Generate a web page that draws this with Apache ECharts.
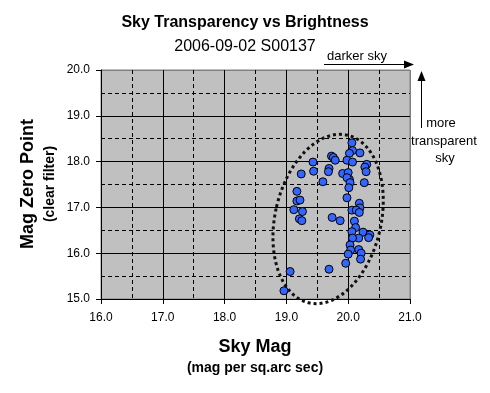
<!DOCTYPE html>
<html>
<head>
<meta charset="utf-8">
<script src="https://cdn.jsdelivr.net/npm/echarts@6/dist/echarts.min.js"></script>
<style>html,body{margin:0;padding:0;background:#fff;}#c{width:490px;height:393px;}</style>
</head>
<body>
<div id="c"></div>
<script>
// Sky Mag (x) and Mag Zero Point (y)
const skyMag = [20.06,20.07,20.02,20.19,19.73,19.76,19.79,19.98,20.07,19.43,20.30,20.27,20.29,19.44,19.69,19.68,19.24,19.91,20.00,20.02,19.98,19.59,20.03,20.01,20.26,19.17,19.17,19.22,19.98,20.18,20.19,20.06,20.13,20.18,19.12,19.26,19.21,19.25,19.74,19.87,20.10,20.12,20.06,20.24,20.35,20.33,20.17,20.07,20.03,20.04,20.17,20.00,20.21,20.20,19.96,19.06,19.69,18.96];
const magZeroPoint = [18.41,18.24,18.18,18.19,18.12,18.09,18.03,18.03,17.99,17.99,17.94,17.88,17.78,17.79,17.85,17.78,17.73,17.74,17.76,17.61,17.65,17.56,17.54,17.43,17.54,17.35,17.14,17.16,17.21,17.09,16.99,16.94,16.94,16.89,16.95,16.91,16.75,16.71,16.78,16.71,16.70,16.56,16.47,16.46,16.40,16.34,16.33,16.33,16.18,16.07,16.08,15.98,16.00,15.87,15.78,15.60,15.65,15.18];
const xTicks = [16, 17, 18, 19, 20, 21];
const yTicks = [15, 16, 17, 18, 19, 20];
const titleText = 'Sky Transparency vs Brightness';
const subtitleText = '2006-09-02 S00137';

const points = skyMag.map((x, i) => [x, magZeroPoint[i]]);
const FONT = '"Liberation Sans", Arial, sans-serif';

// annotation ellipse (centre in data units)
const ellipseCentre = [19.675, 16.747];

const chart = echarts.init(document.getElementById('c'), null, {renderer: 'canvas'});
const splitColors = n => Array.from({length: n}, (_, i) => i === n - 1 ? '#808080' : '#000');

chart.setOption({
  animation: false,
  backgroundColor: '#fff',
  title: [
    {text: titleText, left: 'center', top: 10, textStyle: {fontFamily: FONT, fontSize: 16, fontWeight: 'bold', color: '#000'}},
    {text: subtitleText, left: 'center', top: 34, textStyle: {fontFamily: FONT, fontSize: 16, fontWeight: 'normal', color: '#000'}}
  ],
  grid: {left: 101, right: 80, top: 70, bottom: 94, show: true, backgroundColor: '#c0c0c0', borderColor: '#808080', borderWidth: 1},
  xAxis: {
    type: 'value', min: xTicks[0], max: xTicks[xTicks.length - 1], interval: 1,
    axisLine: {lineStyle: {color: '#000', width: 1}},
    axisTick: {show: true, inside: false, length: 5, lineStyle: {color: '#000'}},
    axisLabel: {formatter: v => v.toFixed(1), fontFamily: FONT, fontSize: 12, color: '#000', margin: 13},
    splitLine: {show: true, lineStyle: {color: splitColors(xTicks.length), width: 1}},
    minorTick: {show: false, splitNumber: 2},
    minorSplitLine: {show: true, lineStyle: {color: '#000', width: 1, type: [4, 3]}}
  },
  yAxis: {
    type: 'value', min: yTicks[0], max: yTicks[yTicks.length - 1], interval: 1,
    axisLine: {show: true, lineStyle: {color: '#000', width: 1}},
    axisTick: {show: true, inside: false, length: 5, lineStyle: {color: '#000'}},
    axisLabel: {formatter: v => v.toFixed(1), fontFamily: FONT, fontSize: 12, color: '#000', margin: 11},
    splitLine: {show: true, lineStyle: {color: splitColors(yTicks.length), width: 1}},
    minorTick: {show: false, splitNumber: 2},
    minorSplitLine: {show: true, lineStyle: {color: '#000', width: 1, type: [4, 3]}}
  },
  series: [{
    type: 'scatter', data: points, symbol: 'circle', symbolSize: 8,
    itemStyle: {color: '#3366ff', borderColor: '#000', borderWidth: 1, opacity: 1},
    z: 5
  }]
});

const c = chart.convertToPixel({gridIndex: 0}, ellipseCentre);
const txt = (x, y, s, size, bold, extra) => Object.assign({
  type: 'text', x, y,
  style: {text: s, fontFamily: FONT, fontSize: size, fontWeight: bold ? 'bold' : 'normal', fill: '#000', align: 'center', verticalAlign: 'middle'}
}, extra || {});

chart.setOption({
  graphic: [
    {type: 'ellipse', x: c[0], y: c[1], rotation: -0.227, z: 4,
     shape: {cx: 0, cy: 0, rx: 53, ry: 86},
     style: {fill: null, stroke: '#111', lineWidth: 3, lineDash: [3, 3]}},
    txt(28, 184, 'Mag Zero Point', 18, true, {rotation: Math.PI / 2}),
    txt(50, 184, '(clear filter)', 14, true, {rotation: Math.PI / 2}),
    txt(255, 347, 'Sky Mag', 18, true),
    txt(255, 368, '(mag per sq.arc sec)', 14, true),
    txt(357, 56, 'darker sky', 13, false),
    {type: 'line', shape: {x1: 324, y1: 64.5, x2: 406, y2: 64.5}, style: {stroke: '#000', lineWidth: 1}},
    {type: 'polygon', shape: {points: [[404, 60.5], [414, 64.5], [404, 68.5]]}, style: {fill: '#000'}},
    {type: 'line', shape: {x1: 421.5, y1: 128, x2: 421.5, y2: 78}, style: {stroke: '#000', lineWidth: 1}},
    {type: 'polygon', shape: {points: [[417.5, 81], [421.5, 71], [425.5, 81]]}, style: {fill: '#000'}},
    txt(441, 123, 'more', 13, false),
    txt(444, 141, 'transparent', 13, false),
    txt(445, 158, 'sky', 13, false)
  ]
});
</script>
</body>
</html>
